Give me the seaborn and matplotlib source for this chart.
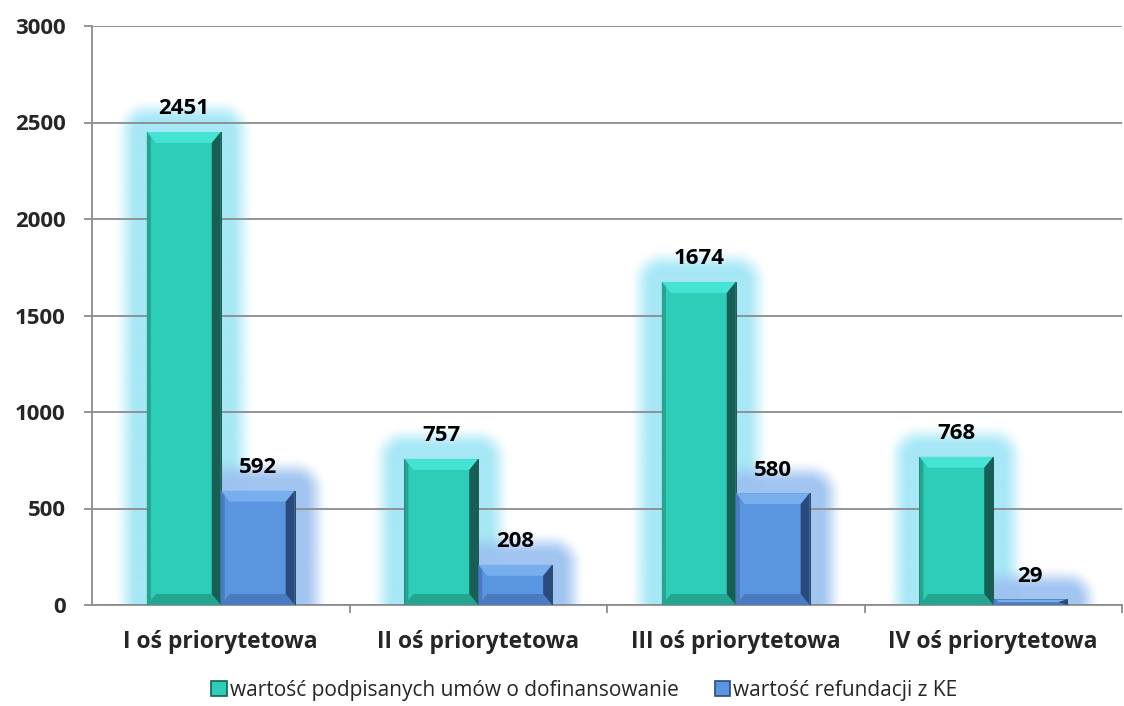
import numpy as np
import pandas as pd
import matplotlib
matplotlib.use("Agg")
import matplotlib.pyplot as plt
import seaborn as sns
from matplotlib.patches import Polygon, Rectangle
from matplotlib.ticker import FixedLocator

categories = ["I oś priorytetowa", "II oś priorytetowa",
              "III oś priorytetowa", "IV oś priorytetowa"]
series_names = ["wartość podpisanych umów o dofinansowanie",
                "wartość refundacji z KE"]
signed_values = [2451, 757, 1674, 768]
refund_values = [592, 208, 580, 29]
y_ticks = [0, 500, 1000, 1500, 2000, 2500, 3000]

face_colors = ["#2ECDB7", "#5A95E0"]
light_colors = ["#45E3D3", "#77AEEE"]
dark_colors = ["#175F55", "#2A4A7E"]
mid_dark_colors = ["#24A592", "#4A7BC2"]
glow_colors = ["#A2E6F6", "#9CC2F0"]

df = pd.DataFrame({
    "category": categories * 2,
    "series": [series_names[0]] * len(categories) + [series_names[1]] * len(categories),
    "value": signed_values + refund_values,
})

sns.set_theme(style="white")
plt.rcParams["font.family"] = ["Open Sans", "DejaVu Sans"]

W, H = 1124, 706
fig = plt.figure(figsize=(W / 100, H / 100), dpi=100)
ax = fig.add_axes([92 / W, 1 - 605 / H, (1122 - 92) / W, (605 - 26) / H])

sns.barplot(data=df, x="category", y="value", hue="series",
            palette=face_colors, width=0.574, saturation=1, legend=False,
            ax=ax, zorder=3, edgecolor="#1E3F3A", linewidth=0.6)

ax.set_xlim(-0.5, len(categories) - 0.5)
ax.set_ylim(0, 3000)

# pixel -> data unit conversion
ux = (len(categories)) / ax.bbox.width
uy = 3000 / ax.bbox.height


def glow(x0, x1, h, color, core=10, fade=24, strength=0.95):
    margin = core + fade
    gx0, gx1 = x0 - margin * ux, x1 + margin * ux
    gy1 = h + margin * uy
    nx = int(round((gx1 - gx0) / ux))
    ny = int(round(gy1 / uy))
    px = np.linspace(gx0, gx1, nx)
    py = np.linspace(0, gy1, ny)
    ddx = np.maximum(np.maximum(x0 - px, px - x1), 0) / ux
    ddy = np.maximum(py - h, 0) / uy
    d = np.sqrt(ddx[None, :] ** 2 + ddy[:, None] ** 2)
    t = np.clip((d - core) / fade, 0, 1)
    a = strength * (1 - (3 * t ** 2 - 2 * t ** 3))
    rgb = np.array(matplotlib.colors.to_rgb(color))
    img = np.zeros((ny, nx, 4))
    img[..., :3] = rgb
    img[..., 3] = a
    ax.imshow(img, extent=(gx0, gx1, 0, gy1), origin="lower", aspect="auto",
              interpolation="bilinear", zorder=0.2)


def bevel(x0, x1, h, i):
    dx = 9 * ux
    dy = min(11 * uy, h / 2)
    top = [(x0, h), (x1, h), (x1 - dx, h - dy), (x0 + dx, h - dy)]
    right = [(x1, h), (x1 - dx, h - dy), (x1 - dx, dy), (x1, 0)]
    bottom = [(x0, 0), (x1, 0), (x1 - dx, dy), (x0 + dx, dy)]
    left = [(x0, 0), (x0, h), (x0 + dx * 0.45, h - dy * 0.45), (x0 + dx * 0.45, dy * 0.45)]
    ax.add_patch(Polygon(top, closed=True, fc=light_colors[i], ec="none", zorder=3.2))
    ax.add_patch(Polygon(bottom, closed=True, fc=mid_dark_colors[i], ec="none", zorder=3.2))
    ax.add_patch(Polygon(left, closed=True, fc=mid_dark_colors[i], ec="none", zorder=3.3))
    ax.add_patch(Polygon(right, closed=True, fc=dark_colors[i], ec="none", zorder=3.3))


for i, container in enumerate(ax.containers):
    for bar in container:
        x0 = bar.get_x()
        x1 = x0 + bar.get_width()
        h = bar.get_height()
        glow(x0, x1, h, glow_colors[i])
        bevel(x0, x1, h, i)
        ax.annotate(f"{h:.0f}", ((x0 + x1) / 2, h), xytext=(0, 9),
                    textcoords="offset points", ha="center", va="bottom",
                    fontsize=16, fontweight="bold", color="black", zorder=5)

ax.set_xlim(-0.5, len(categories) - 0.5)
ax.set_ylim(0, 3000)

# grid and axes
ax.set_axisbelow(True)
ax.yaxis.grid(True, color="#8C8C8C", linewidth=1.3)
ax.xaxis.grid(False)
for side in ["top", "right"]:
    ax.spines[side].set_visible(False)
for side in ["left", "bottom"]:
    ax.spines[side].set_color("#8C8C8C")
    ax.spines[side].set_linewidth(1.3)
    ax.spines[side].set_zorder(0.6)

ax.set_yticks(y_ticks)
ax.set_yticklabels([str(v) for v in y_ticks], fontsize=16, fontweight="bold")
ax.tick_params(axis="y", length=6, width=1.3, color="#8C8C8C", pad=13, left=True)
ax.set_xticks(range(len(categories)))
ax.set_xticklabels(categories, fontsize=16.5, fontweight="bold")
ax.tick_params(axis="x", which="major", length=0, pad=18)
ax.xaxis.set_minor_locator(FixedLocator([k + 0.5 for k in range(len(categories))]))
ax.tick_params(axis="x", which="minor", length=6, width=1.3, color="#8C8C8C", bottom=True)
ax.set_xlabel("")
ax.set_ylabel("")

handles = [Rectangle((0, 0), 1, 1, fc=face_colors[i], ec=dark_colors[i], lw=1.2)
           for i in range(2)]
fig.legend(handles, series_names, loc="center", bbox_to_anchor=(0.52, 0.022),
           ncol=2, frameon=False, fontsize=15, handlelength=0.75, handleheight=0.75,
           handletextpad=0.15, columnspacing=1.7)

fig.savefig("out.png", dpi=100, facecolor="white")
